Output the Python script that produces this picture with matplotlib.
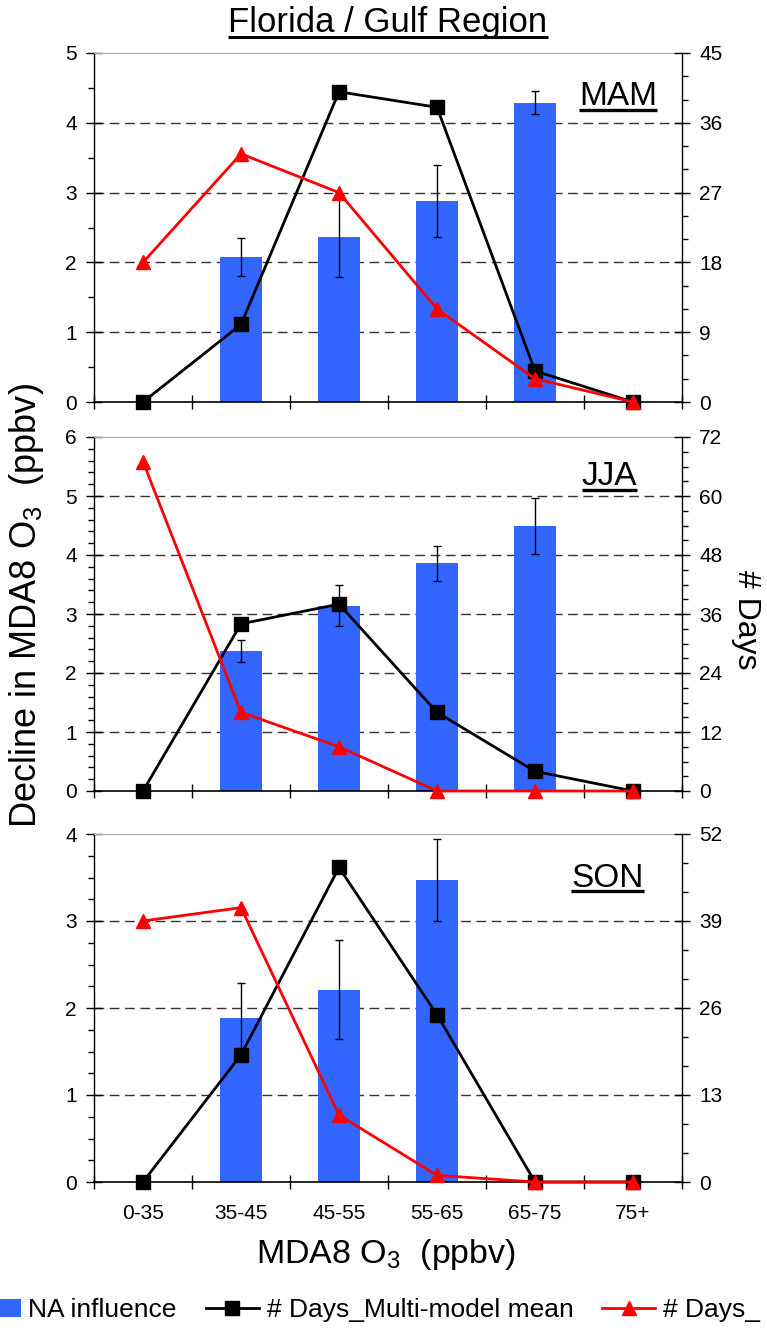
import numpy as np
import matplotlib
matplotlib.use('Agg')
import matplotlib.pyplot as plt
from matplotlib.lines import Line2D
from matplotlib.patches import Patch
from matplotlib.ticker import MultipleLocator, FixedLocator, NullFormatter, FixedFormatter

plt.rcParams['font.family'] = ['Liberation Sans', 'DejaVu Sans']
plt.rcParams['mathtext.fontset'] = 'custom'
plt.rcParams['mathtext.rm'] = 'Liberation Sans'
plt.rcParams['mathtext.it'] = 'Liberation Sans:italic'
plt.rcParams['mathtext.default'] = 'regular'

nan = np.nan
categories = ['0-35', '35-45', '45-55', '55-65', '65-75', '75+']

# Spring (MAM)
na_mam = [nan, 2.08, 2.37, 2.88, 4.29, nan]
na_err_mam = [nan, 0.27, 0.58, 0.52, 0.16, nan]
days_mean_mam = [0, 10, 40, 38, 4, 0]
days_obs_mam = [18, 32, 27, 12, 3, 0]

# Summer (JJA)
na_jja = [nan, 2.37, 3.14, 3.86, 4.49, nan]
na_err_jja = [nan, 0.19, 0.35, 0.30, 0.47, nan]
days_mean_jja = [0, 34, 38, 16, 4, 0]
days_obs_jja = [67, 16, 9, 0, 0, 0]

# Autumn (SON)
na_son = [nan, 1.89, 2.21, 3.47, nan, nan]
na_err_son = [nan, 0.40, 0.57, 0.47, nan, nan]
days_mean_son = [0, 19, 47, 25, 0, 0]
days_obs_son = [39, 41, 10, 1, 0, 0]

legend_labels = ['NA influence', '# Days_Multi-model mean', '# Days_']

BLUE = '#3366FF'
RED = '#FF0000'

fig = plt.figure(figsize=(7.67, 13.31), dpi=100)

W, H = 767.0, 1331.0
left_px, right_px = 94, 682
# (top, bottom) of each panel in pixels
panel_px = [(53, 402), (437, 791), (834, 1182)]

panels = [
    dict(name='MAM', na=na_mam, err=na_err_mam, mean=days_mean_mam, obs=days_obs_mam,
         ymax=5, yminor=0.5, rmax=45, rmajor=9, rminor=3, lab=(0.9575, 0.851)),
    dict(name='JJA', na=na_jja, err=na_err_jja, mean=days_mean_jja, obs=days_obs_jja,
         ymax=6, yminor=0.2, rmax=72, rmajor=12, rminor=3, lab=(0.9235, 0.864)),
    dict(name='SON', na=na_son, err=na_err_son, mean=days_mean_son, obs=days_obs_son,
         ymax=4, yminor=0.25, rmax=52, rmajor=13, rminor=13 / 3, lab=(0.935, 0.848)),
]

x = np.arange(len(categories))
label_texts = []

for i, (p, (top, bot)) in enumerate(zip(panels, panel_px)):
    ax = fig.add_axes([left_px / W, 1 - bot / H, (right_px - left_px) / W, (bot - top) / H])
    ax.set_xlim(-0.5, len(categories) - 0.5)
    ax.set_ylim(0, p['ymax'])

    # dashed horizontal gridlines at interior major ticks
    for t in range(1, p['ymax']):
        ax.axhline(t, color='#333333', lw=1.0, linestyle=(0, (7, 4)), zorder=0.5)

    ax.bar(x, p['na'], width=0.42, color=BLUE, zorder=2)
    ax.errorbar(x, p['na'], yerr=p['err'], fmt='none', ecolor='black',
                elinewidth=1.0, capsize=3, capthick=1.0, zorder=3)

    ax.yaxis.set_major_locator(MultipleLocator(1))
    ax.yaxis.set_minor_locator(MultipleLocator(p['yminor']))
    ax.tick_params(axis='y', which='major', direction='inout', length=11, width=1,
                   labelsize=15, pad=7)
    ax.tick_params(axis='y', which='minor', direction='out', length=4, width=1)

    # x ticks at category boundaries, labels at category centers
    ax.xaxis.set_major_locator(FixedLocator(np.arange(-0.5, len(categories), 1.0)))
    ax.xaxis.set_major_formatter(NullFormatter())
    ax.xaxis.set_minor_locator(FixedLocator(x))
    if i == 2:
        ax.xaxis.set_minor_formatter(FixedFormatter(categories))
    else:
        ax.xaxis.set_minor_formatter(NullFormatter())
    ax.tick_params(axis='x', which='major', direction='inout', length=10, width=1)
    ax.tick_params(axis='x', which='minor', length=0, labelsize=15, pad=16)

    ax.spines['top'].set_color('#aaaaaa')
    ax.spines['right'].set_visible(False)
    ax.spines['left'].set_linewidth(1.0)
    ax.spines['bottom'].set_linewidth(1.2)

    ax2 = ax.twinx()
    ax2.set_ylim(0, p['rmax'])
    ax2.plot(x, p['mean'], color='black', lw=2.0, marker='s', ms=9.5,
             zorder=3, clip_on=False)
    ax2.plot(x, p['obs'], color=RED, lw=2.0, marker='^', ms=10.5,
             zorder=4, clip_on=False)
    ax2.yaxis.set_major_locator(MultipleLocator(p['rmajor']))
    ax2.yaxis.set_minor_locator(MultipleLocator(p['rminor']))
    ax2.tick_params(axis='y', which='major', direction='inout', length=11, width=1,
                    labelsize=15, pad=7)
    ax2.tick_params(axis='y', which='minor', direction='out', length=4, width=1)
    for s in ('top', 'left', 'bottom'):
        ax2.spines[s].set_visible(False)
    ax2.spines['right'].set_linewidth(1.0)

    lx, ly = p['lab']
    t = ax.text(lx, ly, p['name'], transform=ax.transAxes, ha='right', va='baseline',
                fontsize=24, zorder=6)
    label_texts.append((t, 2.4, 4.5))

title = fig.text(388 / W, 1 - 32 / H, 'Florida / Gulf Region', ha='center',
                 va='baseline', fontsize=25)
label_texts.append((title, 2.2, 5))

fig.text(386 / W, 1 - 1263 / H, 'MDA8 O$_3$  (ppbv)', ha='center', va='baseline',
         fontsize=24.5)
fig.text(27 / W, 1 - 606 / H, 'Decline in MDA8 O$_3$  (ppbv)', ha='center',
         va='center', rotation=90, fontsize=26)
fig.text(746 / W, 1 - 620 / H, '# Days', ha='center', va='center', rotation=270,
         fontsize=23)

handles = [
    Patch(facecolor=BLUE, edgecolor='none'),
    Line2D([], [], color='black', lw=2.0, marker='s', ms=9.5),
    Line2D([], [], color=RED, lw=2.0, marker='^', ms=10.5),
]
fig.legend(handles, legend_labels, loc='center left', bbox_to_anchor=(-0.042, 1 - 1310 / H),
           ncol=3, frameon=False, fontsize=19, handlelength=2.0, handletextpad=0.3,
           columnspacing=1.1, borderpad=0, borderaxespad=0, handleheight=0.7)

# underline the title and season labels
fig.canvas.draw()
renderer = fig.canvas.get_renderer()
inv = fig.transFigure.inverted()
for txt, lw, gap in label_texts:
    bb = txt.get_window_extent(renderer)
    bx, by = txt.get_transform().transform(txt.get_position())
    yl = by - gap
    x0, y0 = inv.transform((bb.x0, yl))
    x1, _ = inv.transform((bb.x1, yl))
    fig.add_artist(Line2D([x0, x1], [y0, y0], transform=fig.transFigure,
                          color='black', lw=lw, solid_capstyle='butt'))

fig.savefig('out.png', dpi=100)
